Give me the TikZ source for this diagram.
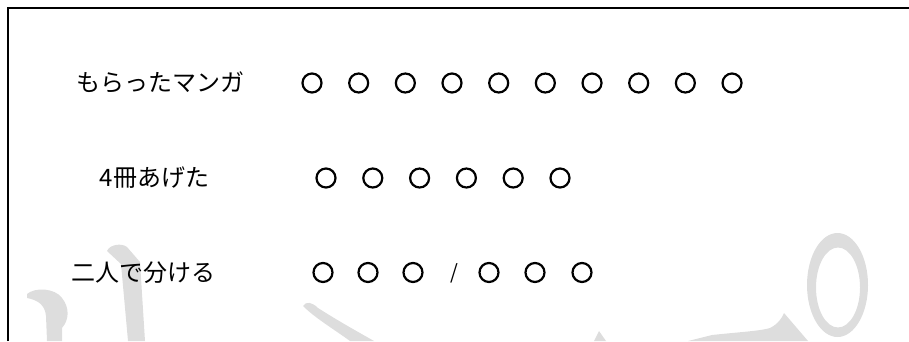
\documentclass[tikz,border=0pt]{standalone}
\usepackage{fontspec}
\usepackage{tikz}
\usepackage{xcolor}
\newfontfamily\jpfont{Noto Sans CJK JP}
\definecolor{wmgray}{HTML}{DDDDDD}

\begin{document}
\begin{tikzpicture}[
    x=1pt, y=-1pt,
    word/.style={font=\jpfont\fontsize{24}{28}\selectfont, inner sep=0pt},
    maru/.style={draw, circle, line width=2.2pt, minimum size=19pt, inner sep=0pt},
    wm/.style={fill=wmgray, draw=none}
]
\useasboundingbox (0,0) rectangle (909,341);
% watermark in the background
\fill[wm] (27,294) .. controls (35,287) and (55,288) .. (62,298) .. controls (70,308) and (69,320) .. (62,328) -- (62,341) -- (47,341) -- (46,316) .. controls (45,305) and (38,300) .. (27,298) -- cycle;
\fill[wm] (107,251) .. controls (110,244) and (122,243) .. (127,247) -- (140,262) -- (145,341) -- (128,341) -- (121,264) -- cycle;
\fill[wm] (303,306) .. controls (306,301) and (312,302) .. (318,308) .. controls (340,322) and (360,333) .. (374,341) -- (350,341) .. controls (335,330) and (315,318) .. (303,306) -- cycle;
\fill[wm] (594,341) -- (599,331) -- (606,341) -- cycle;
\fill[wm] (688,341) -- (712,335) .. controls (740,332) and (760,331) .. (770,328) .. controls (778,324) and (782,318) .. (784,313) -- (808,341) -- cycle;
\fill[wm, even odd rule] (837.5,285) ellipse [x radius=30.5, y radius=52] (838,287.5) ellipse [x radius=22, y radius=40];
% frame
\draw[line width=2pt] (7.7,341) -- (7.7,7.7) -- (909,7.7);
% rows
\node[word] (gotcha) at (160,82.5) {もらったマンガ};
\node[word] (gave) at (154.5,177.5) {4冊あげた};
\node[word] (split) at (143.5,272.5) {二人で分ける};
\foreach \i in {1,...,10}
    \node[maru] (got\i) at ({312+46.67*(\i-1)},83) {};
\foreach \i in {1,...,6}
    \node[maru] (left\i) at ({326+46.8*(\i-1)},178) {};
\node[maru] (a1) at (323,272.5) {};
\node[maru] (a2) at (368,272.5) {};
\node[maru] (a3) at (413,272.5) {};
\node[word, font=\jpfont\fontsize{20}{24}\selectfont] (sep) at (454,273) {/};
\node[maru] (b1) at (489,272.5) {};
\node[maru] (b2) at (535,272.5) {};
\node[maru] (b3) at (582,272.5) {};
\end{tikzpicture}
\end{document}
